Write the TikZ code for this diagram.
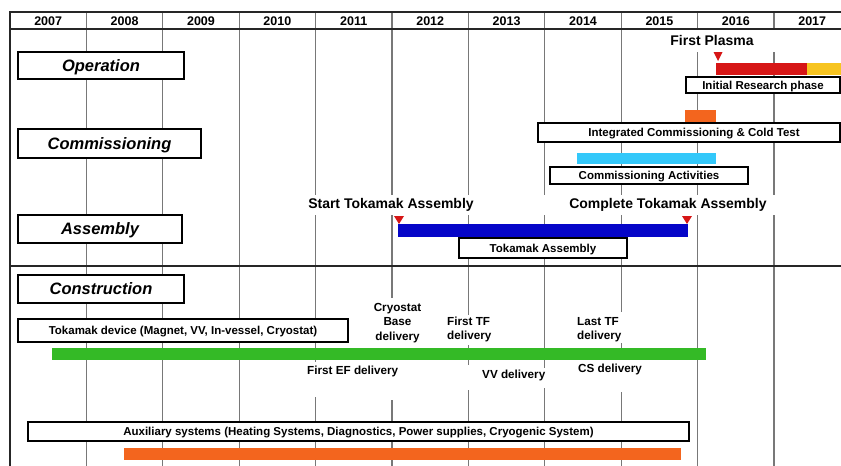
\documentclass[tikz,border=0pt]{standalone}
\usepackage{fontspec}
\setmainfont{Liberation Sans}
\definecolor{cred}{RGB}{214,22,22}
\definecolor{cyel}{RGB}{247,196,32}
\definecolor{corg}{RGB}{243,101,30}
\definecolor{clblue}{RGB}{51,200,250}
\definecolor{cblue}{RGB}{5,5,200}
\definecolor{cgreen}{RGB}{52,186,38}
\definecolor{cgrid}{RGB}{120,120,120}
\tikzset{
  gridline/.style={draw=cgrid, line width=1.3pt},
  frameline/.style={draw=black!85, line width=1.4pt},
  catbox/.style={draw=black, line width=1.4pt, fill=white, inner sep=0pt, text depth=0pt,
    font=\fontsize{16.5}{18}\selectfont\bfseries\itshape},
  lblbox/.style={draw=black, line width=1.3pt, fill=white, inner sep=0pt, text depth=0pt,
    font=\fontsize{11.5}{13}\selectfont\bfseries},
  yearlbl/.style={font=\fontsize{12.5}{14}\selectfont\bfseries, inner sep=0pt},
  milestone/.style={font=\fontsize{14}{16}\selectfont\bfseries, inner sep=0pt},
  delivery/.style={font=\fontsize{11.7}{14.2}\selectfont\bfseries, inner sep=0pt},
  marker/.style={fill=cred, draw=none},
}
\begin{document}
\begin{tikzpicture}[x=1pt,y=-1pt]
\useasboundingbox (0,0) rectangle (841,466);
\fill[white] (0,0) rectangle (841,466);

% grid lines
\draw[gridline] (86.4,12) -- (86.4,466);
\draw[gridline] (162.8,12) -- (162.8,466);
\draw[gridline] (239.2,12) -- (239.2,466);
\draw[gridline] (315.6,12) -- (315.6,195) (315.6,215) -- (315.6,362) (315.6,397) -- (315.6,466);
\draw[gridline] (392,12) -- (392,195) (392,215) -- (392,298) (392,400) -- (392,466);
\draw[gridline] (468.4,12) -- (468.4,195) (468.4,215) -- (468.4,315) (468.4,345) -- (468.4,365) (468.4,390) -- (468.4,466);
\draw[gridline] (544.8,12) -- (544.8,195) (544.8,215) -- (544.8,368) (544.8,388) -- (544.8,466);
\draw[gridline] (621.2,12) -- (621.2,195) (621.2,215) -- (621.2,312) (621.2,343) -- (621.2,350) (621.2,392) -- (621.2,466);
\draw[gridline] (697.6,12) -- (697.6,29) (697.6,52) -- (697.6,195) (697.6,215) -- (697.6,466);
\draw[gridline] (774,12) -- (774,29) (774,52) -- (774,195) (774,215) -- (774,466);

% frame
\draw[frameline] (10,466) -- (10,12) -- (841,12);
\draw[frameline] (10,29) -- (841,29);
\draw[frameline] (10,266) -- (841,266);

% years
\foreach \i [evaluate=\i as \yr using int(2007+\i)] in {0,...,10}
  \node[yearlbl] (yr\i) at ({10+76.4*(\i+0.5)},21) {\yr};

% category boxes
\node[catbox, minimum width=166, minimum height=27] (operation) at (101,65.5) {Operation};
\node[catbox, minimum width=183, minimum height=29] (commissioning) at (109.5,143.5) {Commissioning};
\node[catbox, minimum width=164, minimum height=28] (assembly) at (100,229) {Assembly};
\node[catbox, minimum width=166, minimum height=28] (construction) at (101,289) {Construction};

% operation
\node[milestone] (firstplasma) at (712,40) {First Plasma};
\fill[marker] (713.5,52) -- (722.5,52) -- (718,61) -- cycle;
\fill[cred] (715.7,63) rectangle (806.7,75);
\fill[cyel] (806.7,63) rectangle (841,75);
\node[lblbox, minimum width=154, minimum height=16] (initres) at (763,85) {Initial Research phase};

% commissioning
\fill[corg] (685,110) rectangle (716,122);
\node[lblbox, minimum width=302, minimum height=19] (intcomm) at (689,132.5) {\hspace*{10pt}Integrated Commissioning \& Cold Test};
\fill[clblue] (577,153) rectangle (716,164);
\node[lblbox, minimum width=198, minimum height=17] (commact) at (649,175.5) {Commissioning Activities};

% assembly
\node[milestone] (starttok) at (391,205) {Start Tokamak Assembly};
\node[milestone] (completetok) at (668,205) {Complete Tokamak Assembly};
\fill[cblue] (398,224) rectangle (688,237);
\fill[marker] (394,216) -- (404,216) -- (399,224) -- cycle;
\fill[marker] (682,216) -- (692,216) -- (687,224) -- cycle;
\node[lblbox, minimum width=168, minimum height=20] (tokassy) at (543,248) {Tokamak Assembly};

% construction
\node[lblbox, minimum width=330, minimum height=23] (tokdev) at (183,330.5) {Tokamak device (Magnet, VV, In-vessel, Cryostat)};
\node[delivery, align=center] (cryo) at (397.5,323) {Cryostat\\Base\\delivery};
\node[delivery, align=left, anchor=west] (firsttf) at (447,329.5) {First TF\\delivery};
\node[delivery, align=left, anchor=west] (lasttf) at (577,329.5) {Last TF\\delivery};
\fill[cgreen] (52,348) rectangle (706,360);
\node[delivery, anchor=west] (firstef) at (307,371.5) {First EF delivery};
\node[delivery, anchor=west] (vvdel) at (482,375.5) {VV delivery};
\node[delivery, anchor=west] (csdel) at (578,369.5) {CS delivery};
\node[lblbox, minimum width=661, minimum height=19] (aux) at (358.5,431.5) {Auxiliary systems (Heating Systems, Diagnostics, Power supplies, Cryogenic System)};
\fill[corg] (124,448) rectangle (681,460);
\end{tikzpicture}
\end{document}
